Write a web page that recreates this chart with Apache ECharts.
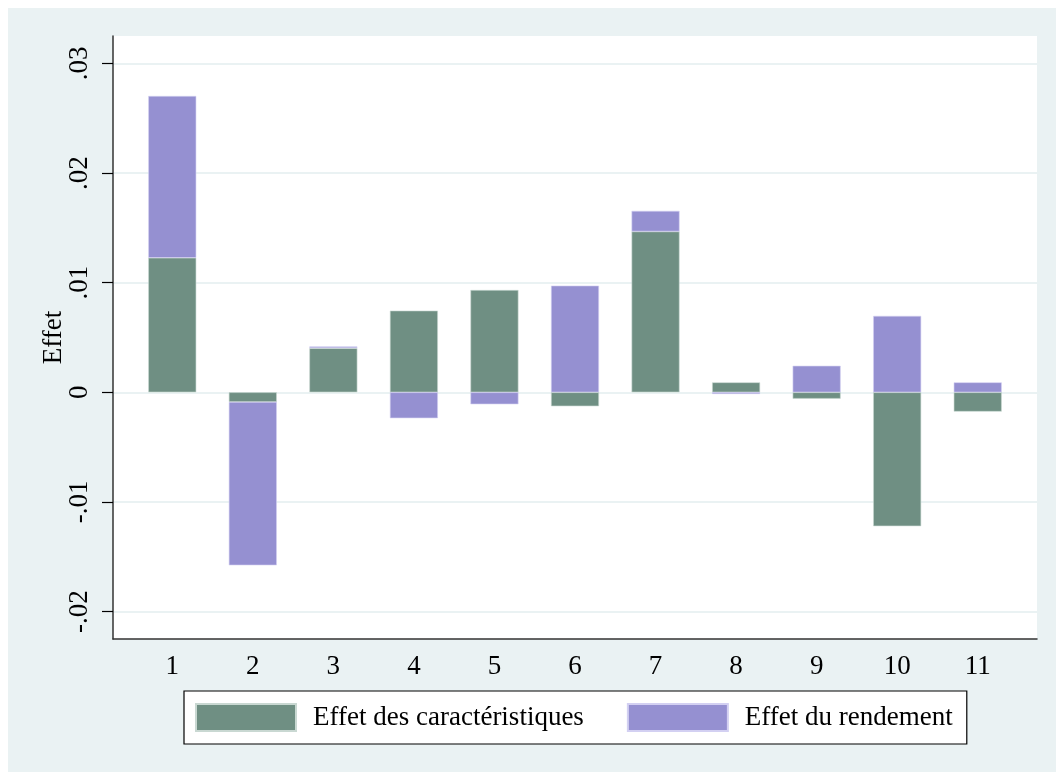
<!DOCTYPE html>
<html>
<head>
<meta charset="utf-8">
<script src="https://cdn.jsdelivr.net/npm/echarts@6/dist/echarts.min.js"></script>
<style>
html,body{margin:0;padding:0;background:#fff;}
#c{width:1056px;height:772px;}
</style>
</head>
<body>
<div id="c"></div>
<script>
const categories = ['1', '2', '3', '4', '5', '6', '7', '8', '9', '10', '11'];
const effetCaracteristiques = [0.01227, -0.00088, 0.00403, 0.00745, 0.00933, -0.00127, 0.01467, 0.00091, -0.00058, -0.01221, -0.00176];
const effetRendement = [0.01476, -0.0149, 0.00015, -0.00236, -0.00109, 0.00973, 0.00188, -0.00015, 0.00242, 0.00697, 0.00091];
const yTicks = [-0.02, -0.01, 0, 0.01, 0.02, 0.03];
const seriesNames = ['Effet des caractéristiques', 'Effet du rendement'];
const yTitle = 'Effet';

const font = '"Liberation Serif", "Times New Roman", serif';
const chart = echarts.init(document.getElementById('c'), null, {renderer: 'canvas'});

function fmt(v) {
  if (Math.abs(v) < 1e-12) return '0';
  const s = Math.abs(v).toFixed(2).replace(/^0/, '');
  return (v < 0 ? '-' : '') + s;
}

const yMin = -0.0225, yMax = 0.0325;

chart.setOption({
  animation: false,
  backgroundColor: '#ffffff',
  graphic: [{
    type: 'rect', z: -10, silent: true,
    shape: {x: 8, y: 8, width: 1048, height: 764},
    style: {fill: '#eaf2f3'}
  }],
  grid: [
    {left: 113, top: 36, right: 19, bottom: 133, show: true, backgroundColor: '#ffffff', borderWidth: 0},
    {left: 132, top: 36, right: 38, bottom: 133, show: false}
  ],
  legend: {
    left: 184, top: 691,
    itemWidth: 100, itemHeight: 27, itemGap: 43,
    padding: [12, 14, 12, 11],
    backgroundColor: '#ffffff', borderColor: '#000000', borderWidth: 1.2,
    icon: 'rect',
    textStyle: {fontFamily: font, fontSize: 27, color: '#000', padding: [0, 0, 0, 12]},
    data: seriesNames
  },
  xAxis: [
    {
      gridIndex: 0, type: 'value', min: 0, max: 1,
      axisLine: {show: true, onZero: false, lineStyle: {color: '#333', width: 1.5}},
      axisTick: {show: false}, splitLine: {show: false}, axisLabel: {show: false}
    },
    {
      gridIndex: 1, type: 'category', data: categories, boundaryGap: true,
      axisLine: {show: false}, axisTick: {show: false}, splitLine: {show: false},
      axisLabel: {fontFamily: font, fontSize: 27, color: '#000', margin: 14}
    }
  ],
  yAxis: [
    {
      gridIndex: 0, type: 'value', min: yMin, max: yMax,
      name: yTitle, nameLocation: 'middle', nameGap: 46, nameRotate: 90,
      nameMoveOverlap: false,
      nameTextStyle: {fontFamily: font, fontSize: 27, color: '#000'},
      axisLine: {show: true, onZero: false, lineStyle: {color: '#333', width: 1.5}},
      axisTick: {show: true, customValues: yTicks, length: 11, lineStyle: {color: '#000', width: 1.2}},
      splitLine: {show: true, lineStyle: {color: '#eaf2f3', width: 2}},
      axisLabel: {
        customValues: yTicks,
        rotate: 90, fontFamily: font, fontSize: 27, color: '#000', margin: 20,
        formatter: fmt
      }
    },
    {
      gridIndex: 1, type: 'value', min: yMin, max: yMax, show: false,
      splitLine: {show: false}
    }
  ],
  series: [
    {
      name: seriesNames[0], type: 'bar', stack: 'tot', barWidth: 48,
      xAxisIndex: 1, yAxisIndex: 1,
      itemStyle: {color: '#6f8f83', borderColor: '#c9d8d2', borderWidth: 0.6},
      data: effetCaracteristiques
    },
    {
      name: seriesNames[1], type: 'bar', stack: 'tot', barWidth: 48,
      xAxisIndex: 1, yAxisIndex: 1,
      itemStyle: {color: '#9590d1', borderColor: '#d3d0f2', borderWidth: 0.6},
      data: effetRendement
    }
  ]
});
</script>
</body>
</html>
